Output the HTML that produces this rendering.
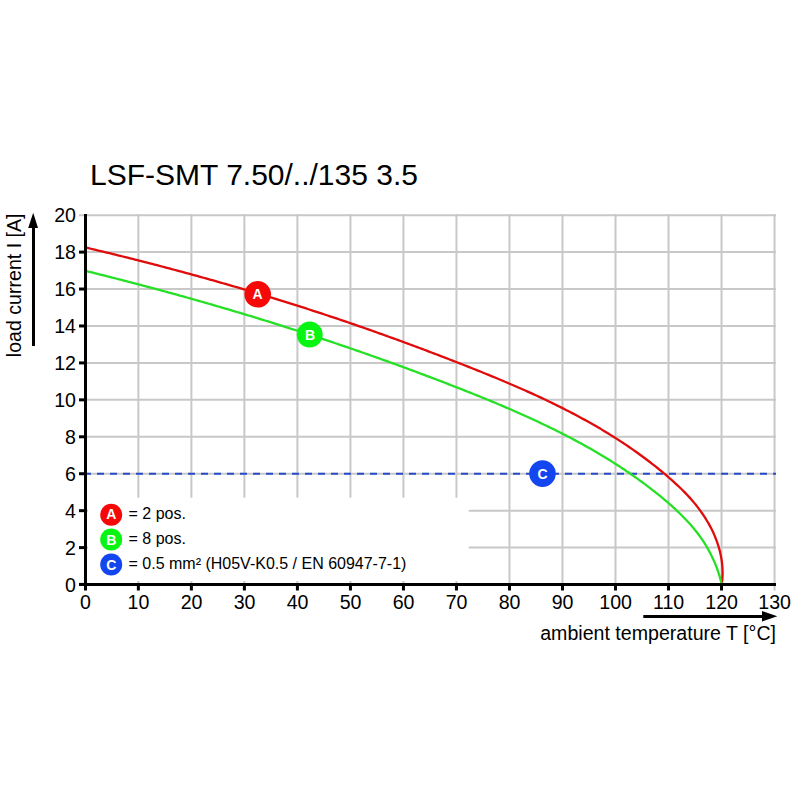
<!DOCTYPE html>
<html><head><meta charset="utf-8"><style>
html,body{margin:0;padding:0;background:#fff;width:800px;height:800px;overflow:hidden}
svg{display:block}
text{font-family:"Liberation Sans",sans-serif}
</style></head><body>
<svg width="800" height="800" viewBox="0 0 800 800">
<rect width="800" height="800" fill="#fff"/>
<text x="90" y="185" font-size="30" fill="#000">LSF-SMT 7.50/../135 3.5</text>
<g stroke="#c8c8c8" stroke-width="2"><line x1="138.36" y1="214" x2="138.36" y2="584.4"/>
<line x1="191.38" y1="214" x2="191.38" y2="584.4"/>
<line x1="244.39" y1="214" x2="244.39" y2="584.4"/>
<line x1="297.41" y1="214" x2="297.41" y2="584.4"/>
<line x1="350.43" y1="214" x2="350.43" y2="584.4"/>
<line x1="403.44" y1="214" x2="403.44" y2="584.4"/>
<line x1="456.46" y1="214" x2="456.46" y2="584.4"/>
<line x1="509.47" y1="214" x2="509.47" y2="584.4"/>
<line x1="562.49" y1="214" x2="562.49" y2="584.4"/>
<line x1="615.50" y1="214" x2="615.50" y2="584.4"/>
<line x1="668.51" y1="214" x2="668.51" y2="584.4"/>
<line x1="721.53" y1="214" x2="721.53" y2="584.4"/>
<line x1="774.54" y1="214" x2="774.54" y2="590.5"/>
<line x1="85.5" y1="547.61" x2="776" y2="547.61"/>
<line x1="85.5" y1="510.67" x2="776" y2="510.67"/>
<line x1="85.5" y1="473.73" x2="776" y2="473.73"/>
<line x1="85.5" y1="436.79" x2="776" y2="436.79"/>
<line x1="85.5" y1="399.85" x2="776" y2="399.85"/>
<line x1="85.5" y1="362.91" x2="776" y2="362.91"/>
<line x1="85.5" y1="325.97" x2="776" y2="325.97"/>
<line x1="85.5" y1="289.03" x2="776" y2="289.03"/>
<line x1="85.5" y1="252.09" x2="776" y2="252.09"/>
<line x1="79.0" y1="215.15" x2="776" y2="215.15"/></g>
<rect x="88" y="497.7" width="380.7" height="83.3" fill="#fff"/>
<line x1="84" y1="473.8" x2="776" y2="473.8" stroke="#2a4ac8" stroke-width="2" stroke-dasharray="7 6"/>
<path d="M86.01,247.58 L88.46,248.16 L90.91,248.75 L93.37,249.33 L95.82,249.92 L98.27,250.51 L100.72,251.10 L103.17,251.69 L105.62,252.28 L108.08,252.88 L110.53,253.48 L112.98,254.08 L115.43,254.68 L117.88,255.28 L120.33,255.89 L122.78,256.50 L125.23,257.11 L127.68,257.72 L130.13,258.34 L132.58,258.95 L135.03,259.57 L137.48,260.19 L139.93,260.82 L142.38,261.44 L144.83,262.07 L147.28,262.70 L149.73,263.33 L152.18,263.96 L154.62,264.60 L157.07,265.23 L159.52,265.87 L161.97,266.51 L164.41,267.16 L166.86,267.80 L169.31,268.45 L171.75,269.10 L174.20,269.75 L176.64,270.41 L179.08,271.06 L181.53,271.72 L183.97,272.38 L186.41,273.04 L188.86,273.71 L191.30,274.38 L193.74,275.04 L196.18,275.72 L198.62,276.39 L201.06,277.06 L203.50,277.74 L205.94,278.42 L208.38,279.10 L210.82,279.79 L213.25,280.47 L215.69,281.16 L218.13,281.85 L220.56,282.55 L223.00,283.24 L225.43,283.94 L227.86,284.64 L230.30,285.34 L232.73,286.04 L235.16,286.75 L237.59,287.46 L240.02,288.17 L242.45,288.88 L244.88,289.60 L247.30,290.31 L249.73,291.03 L252.16,291.76 L254.58,292.48 L257.01,293.21 L259.43,293.93 L261.85,294.66 L264.27,295.40 L266.70,296.13 L269.12,296.87 L271.54,297.61 L273.95,298.35 L276.37,299.10 L278.79,299.84 L281.20,300.59 L283.62,301.34 L286.03,302.10 L288.44,302.85 L290.86,303.61 L293.27,304.37 L295.68,305.13 L298.09,305.90 L300.49,306.67 L302.90,307.44 L305.31,308.21 L307.71,308.98 L310.11,309.76 L312.52,310.54 L314.92,311.32 L317.32,312.10 L319.72,312.89 L322.12,313.68 L324.51,314.47 L326.91,315.26 L329.30,316.06 L331.70,316.85 L334.09,317.65 L336.48,318.46 L338.87,319.26 L341.26,320.07 L343.64,320.88 L346.03,321.69 L348.42,322.50 L350.80,323.32 L353.18,324.14 L355.56,324.96 L357.95,325.79 L360.33,326.61 L362.70,327.44 L365.08,328.27 L367.46,329.10 L369.84,329.94 L372.21,330.78 L374.59,331.62 L376.96,332.46 L379.33,333.30 L381.70,334.15 L384.08,335.00 L386.45,335.85 L388.82,336.71 L391.19,337.56 L393.55,338.42 L395.92,339.28 L398.29,340.14 L400.66,341.01 L403.02,341.88 L405.39,342.75 L407.75,343.62 L410.12,344.49 L412.48,345.37 L414.84,346.25 L417.21,347.13 L419.57,348.01 L421.93,348.90 L424.29,349.79 L426.66,350.68 L429.02,351.57 L431.38,352.46 L433.74,353.36 L436.10,354.26 L438.46,355.16 L440.82,356.07 L443.18,356.97 L445.54,357.88 L447.90,358.79 L450.26,359.70 L452.62,360.62 L454.98,361.53 L457.34,362.45 L459.69,363.37 L462.05,364.30 L464.41,365.22 L466.77,366.15 L469.13,367.08 L471.49,368.02 L473.84,368.95 L476.20,369.89 L478.55,370.84 L480.91,371.78 L483.26,372.73 L485.61,373.69 L487.96,374.64 L490.31,375.60 L492.66,376.57 L495.01,377.54 L497.35,378.51 L499.70,379.49 L502.04,380.47 L504.38,381.45 L506.72,382.44 L509.05,383.44 L511.39,384.44 L513.72,385.44 L516.05,386.45 L518.37,387.46 L520.70,388.48 L523.02,389.51 L525.34,390.54 L527.65,391.58 L529.96,392.62 L532.27,393.66 L534.58,394.72 L536.88,395.78 L539.18,396.84 L541.48,397.91 L543.77,398.99 L546.06,400.08 L548.35,401.17 L550.63,402.27 L552.91,403.37 L555.18,404.48 L557.45,405.60 L559.72,406.73 L561.98,407.86 L564.23,409.00 L566.49,410.15 L568.73,411.30 L570.98,412.47 L573.22,413.64 L575.45,414.82 L577.68,416.01 L579.90,417.20 L582.12,418.40 L584.33,419.62 L586.54,420.84 L588.74,422.07 L590.94,423.31 L593.13,424.55 L595.32,425.81 L597.50,427.07 L599.67,428.35 L601.84,429.63 L604.00,430.93 L606.16,432.23 L608.31,433.54 L610.45,434.86 L612.58,436.20 L614.71,437.54 L616.84,438.89 L618.95,440.25 L621.06,441.63 L623.17,443.01 L625.26,444.41 L627.35,445.81 L629.43,447.23 L631.50,448.65 L633.57,450.09 L635.63,451.54 L637.68,453.00 L639.72,454.47 L641.76,455.96 L643.78,457.45 L645.80,458.96 L647.82,460.48 L649.82,462.01 L651.81,463.55 L653.80,465.11 L655.78,466.67 L657.75,468.25 L659.71,469.85 L661.66,471.45 L663.60,473.07 L665.53,474.70 L667.46,476.34 L669.38,478.00 L671.28,479.67 L673.17,481.36 L675.05,483.06 L676.92,484.78 L678.77,486.51 L680.60,488.27 L682.41,490.04 L684.20,491.84 L685.97,493.66 L687.72,495.50 L689.44,497.37 L691.13,499.26 L692.79,501.18 L694.42,503.12 L696.02,505.09 L697.59,507.09 L699.13,509.11 L700.63,511.15 L702.09,513.22 L703.51,515.31 L704.90,517.42 L706.24,519.56 L707.54,521.72 L708.80,523.90 L710.01,526.11 L711.18,528.34 L712.30,530.59 L713.37,532.86 L714.39,535.15 L715.35,537.47 L716.27,539.80 L717.13,542.16 L717.93,544.54 L718.68,546.93 L719.37,549.34 L719.99,551.77 L720.55,554.22 L721.05,556.68 L721.48,559.16 L721.84,561.65 L722.14,564.15 L722.36,566.66 L722.50,569.19 L722.57,571.73 L722.57,574.27 L722.48,576.83 L722.32,579.39 L722.07,581.96 L721.74,584.53" fill="none" stroke="#e00c0c" stroke-width="2.3"/>
<path d="M85.85,270.97 L88.23,271.55 L90.62,272.14 L93.00,272.74 L95.38,273.33 L97.77,273.92 L100.15,274.52 L102.53,275.12 L104.91,275.72 L107.29,276.32 L109.66,276.92 L112.04,277.53 L114.42,278.13 L116.80,278.74 L119.17,279.35 L121.54,279.96 L123.92,280.57 L126.29,281.19 L128.66,281.80 L131.03,282.42 L133.41,283.04 L135.78,283.66 L138.14,284.28 L140.51,284.91 L142.88,285.53 L145.25,286.16 L147.61,286.79 L149.98,287.42 L152.34,288.05 L154.71,288.69 L157.07,289.32 L159.43,289.96 L161.79,290.60 L164.15,291.24 L166.51,291.89 L168.87,292.53 L171.23,293.18 L173.59,293.83 L175.95,294.48 L178.30,295.13 L180.66,295.78 L183.01,296.44 L185.37,297.09 L187.72,297.75 L190.07,298.41 L192.43,299.07 L194.78,299.74 L197.13,300.40 L199.48,301.07 L201.83,301.74 L204.18,302.41 L206.52,303.09 L208.87,303.76 L211.22,304.44 L213.56,305.11 L215.91,305.79 L218.25,306.48 L220.60,307.16 L222.94,307.85 L225.28,308.53 L227.62,309.22 L229.96,309.91 L232.30,310.61 L234.64,311.30 L236.98,312.00 L239.32,312.70 L241.66,313.40 L243.99,314.10 L246.33,314.80 L248.66,315.51 L251.00,316.22 L253.33,316.93 L255.67,317.64 L258.00,318.35 L260.33,319.07 L262.66,319.78 L264.99,320.50 L267.32,321.22 L269.65,321.95 L271.98,322.67 L274.31,323.40 L276.64,324.13 L278.96,324.86 L281.29,325.59 L283.62,326.33 L285.94,327.06 L288.27,327.80 L290.59,328.54 L292.91,329.28 L295.23,330.03 L297.56,330.77 L299.88,331.52 L302.20,332.27 L304.52,333.02 L306.84,333.78 L309.16,334.53 L311.47,335.29 L313.79,336.05 L316.11,336.81 L318.42,337.58 L320.74,338.34 L323.05,339.11 L325.37,339.88 L327.68,340.65 L330.00,341.43 L332.31,342.20 L334.62,342.98 L336.93,343.76 L339.24,344.54 L341.55,345.33 L343.86,346.11 L346.17,346.90 L348.48,347.69 L350.79,348.49 L353.10,349.28 L355.40,350.08 L357.71,350.88 L360.01,351.68 L362.32,352.48 L364.62,353.28 L366.93,354.09 L369.23,354.90 L371.53,355.71 L373.84,356.52 L376.14,357.34 L378.44,358.16 L380.74,358.98 L383.04,359.80 L385.34,360.62 L387.64,361.45 L389.93,362.27 L392.23,363.10 L394.53,363.94 L396.83,364.77 L399.12,365.61 L401.42,366.45 L403.71,367.29 L406.01,368.13 L408.30,368.97 L410.60,369.82 L412.89,370.67 L415.18,371.52 L417.47,372.38 L419.76,373.23 L422.05,374.09 L424.34,374.95 L426.63,375.81 L428.92,376.68 L431.21,377.55 L433.50,378.41 L435.79,379.29 L438.08,380.16 L440.36,381.03 L442.65,381.91 L444.93,382.79 L447.22,383.68 L449.50,384.56 L451.79,385.45 L454.07,386.34 L456.36,387.23 L458.64,388.12 L460.92,389.02 L463.20,389.92 L465.48,390.82 L467.76,391.72 L470.04,392.63 L472.32,393.54 L474.60,394.45 L476.87,395.36 L479.15,396.28 L481.42,397.20 L483.69,398.13 L485.97,399.06 L488.24,399.99 L490.50,400.92 L492.77,401.86 L495.03,402.81 L497.30,403.75 L499.56,404.70 L501.82,405.66 L504.07,406.62 L506.33,407.58 L508.58,408.55 L510.83,409.52 L513.08,410.50 L515.33,411.48 L517.57,412.47 L519.81,413.46 L522.05,414.46 L524.29,415.46 L526.52,416.47 L528.75,417.48 L530.98,418.50 L533.20,419.52 L535.42,420.55 L537.64,421.58 L539.85,422.62 L542.07,423.67 L544.27,424.72 L546.48,425.78 L548.68,426.84 L550.88,427.91 L553.07,428.99 L555.26,430.07 L557.45,431.16 L559.63,432.26 L561.81,433.36 L563.98,434.47 L566.16,435.59 L568.32,436.71 L570.48,437.84 L572.64,438.98 L574.80,440.13 L576.94,441.28 L579.09,442.44 L581.23,443.61 L583.36,444.78 L585.49,445.97 L587.62,447.16 L589.74,448.36 L591.85,449.57 L593.97,450.78 L596.07,452.01 L598.17,453.24 L600.26,454.48 L602.35,455.73 L604.44,456.99 L606.52,458.26 L608.59,459.54 L610.66,460.82 L612.72,462.11 L614.77,463.42 L616.82,464.73 L618.87,466.05 L620.90,467.39 L622.93,468.73 L624.96,470.08 L626.98,471.44 L628.99,472.81 L631.00,474.19 L633.00,475.58 L634.99,476.98 L636.98,478.39 L638.95,479.82 L640.93,481.25 L642.89,482.69 L644.85,484.14 L646.80,485.61 L648.75,487.08 L650.69,488.57 L652.62,490.07 L654.54,491.57 L656.45,493.09 L658.36,494.62 L660.26,496.17 L662.15,497.72 L664.04,499.29 L665.91,500.86 L667.77,502.46 L669.62,504.06 L671.46,505.68 L673.28,507.32 L675.09,508.97 L676.88,510.63 L678.65,512.31 L680.40,514.01 L682.13,515.73 L683.85,517.47 L685.54,519.22 L687.20,520.99 L688.84,522.78 L690.46,524.59 L692.05,526.43 L693.61,528.28 L695.15,530.15 L696.65,532.05 L698.13,533.97 L699.57,535.91 L700.98,537.88 L702.35,539.87 L703.69,541.88 L704.99,543.92 L706.26,545.99 L707.49,548.08 L708.68,550.20 L709.83,552.34 L710.94,554.50 L712.02,556.68 L713.05,558.89 L714.05,561.12 L715.01,563.38 L715.93,565.65 L716.80,567.94 L717.64,570.26 L718.44,572.59 L719.19,574.94 L719.91,577.31 L720.58,579.70 L721.21,582.11 L721.80,584.53" fill="none" stroke="#26e026" stroke-width="2.3"/>
<g stroke="#000" stroke-width="3">
<line x1="85.5" y1="213.9" x2="85.5" y2="586"/>
<line x1="79" y1="584.4" x2="776" y2="584.4"/>
<line x1="85.50" y1="584.4" x2="85.50" y2="590.5"/>
<line x1="138.36" y1="584.4" x2="138.36" y2="590.5"/>
<line x1="191.38" y1="584.4" x2="191.38" y2="590.5"/>
<line x1="244.39" y1="584.4" x2="244.39" y2="590.5"/>
<line x1="297.41" y1="584.4" x2="297.41" y2="590.5"/>
<line x1="350.43" y1="584.4" x2="350.43" y2="590.5"/>
<line x1="403.44" y1="584.4" x2="403.44" y2="590.5"/>
<line x1="456.46" y1="584.4" x2="456.46" y2="590.5"/>
<line x1="509.47" y1="584.4" x2="509.47" y2="590.5"/>
<line x1="562.49" y1="584.4" x2="562.49" y2="590.5"/>
<line x1="615.50" y1="584.4" x2="615.50" y2="590.5"/>
<line x1="668.51" y1="584.4" x2="668.51" y2="590.5"/>
<line x1="721.53" y1="584.4" x2="721.53" y2="590.5"/>
<line x1="79" y1="584.40" x2="85.5" y2="584.40"/>
<line x1="79" y1="547.61" x2="85.5" y2="547.61"/>
<line x1="79" y1="510.67" x2="85.5" y2="510.67"/>
<line x1="79" y1="473.73" x2="85.5" y2="473.73"/>
<line x1="79" y1="436.79" x2="85.5" y2="436.79"/>
<line x1="79" y1="399.85" x2="85.5" y2="399.85"/>
<line x1="79" y1="362.91" x2="85.5" y2="362.91"/>
<line x1="79" y1="325.97" x2="85.5" y2="325.97"/>
<line x1="79" y1="289.03" x2="85.5" y2="289.03"/>
<line x1="79" y1="252.09" x2="85.5" y2="252.09"/>
</g>
<g font-size="19.6" fill="#000"><text x="85.50" y="608.9" text-anchor="middle">0</text><text x="138.51" y="608.9" text-anchor="middle">10</text><text x="191.53" y="608.9" text-anchor="middle">20</text><text x="244.54" y="608.9" text-anchor="middle">30</text><text x="297.56" y="608.9" text-anchor="middle">40</text><text x="350.57" y="608.9" text-anchor="middle">50</text><text x="403.59" y="608.9" text-anchor="middle">60</text><text x="456.61" y="608.9" text-anchor="middle">70</text><text x="509.62" y="608.9" text-anchor="middle">80</text><text x="562.63" y="608.9" text-anchor="middle">90</text><text x="615.65" y="608.9" text-anchor="middle">100</text><text x="668.66" y="608.9" text-anchor="middle">110</text><text x="721.68" y="608.9" text-anchor="middle">120</text><text x="774.69" y="608.9" text-anchor="middle">130</text><text x="76" y="591.60" text-anchor="end">0</text><text x="76" y="554.66" text-anchor="end">2</text><text x="76" y="517.72" text-anchor="end">4</text><text x="76" y="480.78" text-anchor="end">6</text><text x="76" y="443.84" text-anchor="end">8</text><text x="76" y="406.90" text-anchor="end">10</text><text x="76" y="369.96" text-anchor="end">12</text><text x="76" y="333.02" text-anchor="end">14</text><text x="76" y="296.08" text-anchor="end">16</text><text x="76" y="259.14" text-anchor="end">18</text><text x="76" y="222.20" text-anchor="end">20</text></g>
<text x="776" y="639.5" font-size="19.6" text-anchor="end">ambient temperature T [°C]</text>
<text transform="translate(21.3,357.2) rotate(-90)" font-size="19.6">load current I [A]</text>
<line x1="643.3" y1="616.4" x2="763" y2="616.4" stroke="#000" stroke-width="3"/>
<polygon points="762,611 762,621.6 777.3,616.3" fill="#000"/>
<line x1="33.5" y1="346" x2="33.5" y2="227" stroke="#000" stroke-width="3"/>
<polygon points="28.2,228 38,228 33.2,212.8" fill="#000"/>
<g font-size="14" font-weight="bold" fill="#fff" text-anchor="middle">
<circle cx="257.7" cy="294.3" r="13.3" fill="#f70808"/><text x="257.6" y="299.4">A</text>
<circle cx="309.7" cy="334.6" r="13" fill="#08f514"/><text x="310" y="339.8">B</text>
<circle cx="542.5" cy="473.6" r="13.3" fill="#1446f0"/><text x="542.5" y="479">C</text>
</g>
<g font-size="14" font-weight="bold" fill="#fff" text-anchor="middle">
<circle cx="111.2" cy="514.8" r="11" fill="#f70808"/><text x="111.2" y="519.4">A</text>
<circle cx="111.2" cy="539.5" r="11" fill="#08f514"/><text x="111.4" y="544.5">B</text>
<circle cx="111.2" cy="564.5" r="11" fill="#1446f0"/><text x="111.2" y="569.5">C</text>
</g>
<g font-size="16" fill="#000">
<text x="128.5" y="518.8">= 2 pos.</text>
<text x="128.5" y="543.7">= 8 pos.</text>
<text x="128.5" y="568.6">= 0.5 mm² (H05V-K0.5 / EN 60947-7-1)</text>
</g>
</svg>
</body></html>
